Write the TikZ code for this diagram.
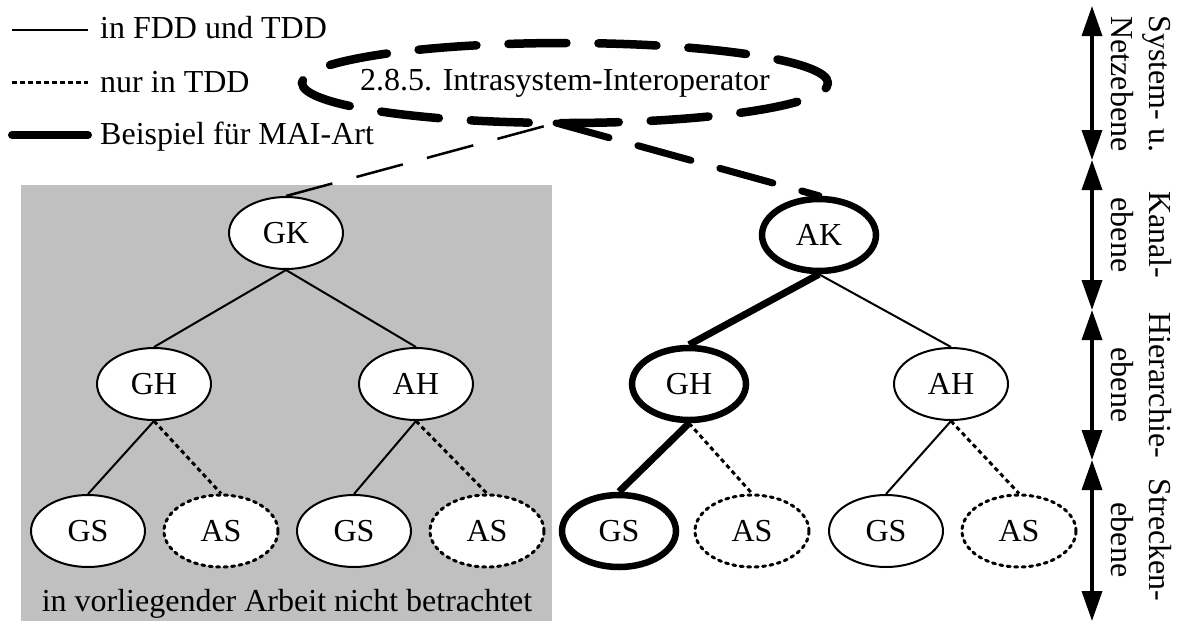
\documentclass[tikz,border=0pt]{standalone}
\usepackage{fontspec}
\setmainfont{Liberation Serif}
\usetikzlibrary{shapes.geometric,arrows.meta,calc}
\definecolor{areagrey}{RGB}{192,192,192}
\begin{document}
\begin{tikzpicture}[x=1pt,y=-1pt,
  lbl/.style={font=\fontsize{32}{38}\selectfont},
  unit/.style={ellipse, draw, fill=white, line width=2pt, minimum width=114pt,
    minimum height=72pt, inner sep=0pt, lbl},
  tddunit/.style={unit, line width=3pt, dash pattern=on 3pt off 4.5pt, line cap=round},
  maiunit/.style={unit, line width=6.5pt},
  fdd/.style={line width=2pt},
  tdd/.style={line width=3pt, dash pattern=on 4.5pt off 3.5pt},
  mai/.style={line width=7pt},
  level/.style={line width=3.5pt, {Triangle[length=30pt,width=20pt]}-{Triangle[length=30pt,width=20pt]}},
  side/.style={lbl, rotate=-90, align=center, inner sep=0pt}
]
\useasboundingbox (0,0) rectangle (1178,625);

% area not treated in this work
\fill[areagrey] (21,185) rectangle (552,621);
\node[lbl, inner sep=0pt] (note) at (287,604) {in vorliegender Arbeit nicht betrachtet};

% legend
\coordinate (l1a) at (12,30);  \coordinate (l1b) at (88,30);
\coordinate (l2a) at (12,82);  \coordinate (l2b) at (88,82);
\coordinate (l3a) at (12,135); \coordinate (l3b) at (88,135);
\draw[fdd] (l1a) -- (l1b);
\draw[tdd] (l2a) -- (l2b);
\draw[mai, line width=8pt, line cap=round] (l3a) -- (l3b);
\node[lbl, anchor=west, inner sep=0pt] (t1) at (100,28) {in FDD und TDD};
\node[lbl, anchor=west, inner sep=0pt] (t2) at (100,82) {nur in TDD};
\node[lbl, anchor=west, inner sep=0pt] (t3) at (100,137) {Beispiel für MAI-Art};

% interoperator
\node[ellipse, draw, line width=8.5pt, dash pattern=on 58pt off 32pt, line cap=round,
  minimum width=526pt, minimum height=80pt, inner sep=0pt] (inter) at (565,83) {};
\node[lbl, inner sep=0pt] (intertext) at (inter.center) {2.8.5. Intrasystem-Interoperator};
\coordinate (meet) at (556,123);

% left tree
\node[unit] (GK) at (286,233) {GK};
\node[unit] (GH1) at (154,384) {GH};
\node[unit] (AH1) at (416,384) {AH};
\node[unit] (GS1) at (88,531) {GS};
\node[tddunit] (AS1) at (221,531) {AS};
\node[unit] (GS2) at (354,531) {GS};
\node[tddunit] (AS2) at (487,531) {AS};

% right tree
\node[maiunit] (AK) at (819,235) {AK};
\node[maiunit] (GH2) at (689,384) {GH};
\node[unit] (AH2) at (951,384) {AH};
\node[maiunit] (GS3) at (619,531) {GS};
\node[tddunit] (AS3) at (752,531) {AS};
\node[unit] (GS4) at (886,531) {GS};
\node[tddunit] (AS4) at (1019,531) {AS};

% links
\draw[fdd] (GK.south) -- (GH1.north);
\draw[fdd] (GK.south) -- (AH1.north);
\draw[fdd] (GH1.south) -- (GS1.north);
\draw[tdd] (GH1.south) -- (AS1.north);
\draw[fdd] (AH1.south) -- (GS2.north);
\draw[tdd] (AH1.south) -- (AS2.north);
\draw[mai] (AK.south) -- (GH2.north);
\draw[fdd] (AK.south) -- (AH2.north);
\draw[mai] (GH2.south) -- (GS3.north);
\draw[tdd] (GH2.south) -- (AS3.north);
\draw[fdd] (AH2.south) -- (GS4.north);
\draw[tdd] (AH2.south) -- (AS4.north);

\draw[line width=2.5pt, dash pattern=on 48pt off 25pt] (GK.north) -- (meet);
\draw[line width=7pt, dash pattern=on 55pt off 30pt, line cap=round] (meet) -- (AK.north);

% levels
\coordinate (v0) at (1092,6);
\coordinate (v1) at (1092,160);
\coordinate (v2) at (1092,310);
\coordinate (v3) at (1092,460);
\coordinate (v4) at (1092,621);
\draw[level] (v0) -- (v1);
\draw[level] (v1) -- (v2);
\draw[level] (v2) -- (v3);
\draw[level] (v3) -- (v4);
\node[side] (s1) at (1141,84) {System- u.\\Netzebene};
\node[side] (s2) at (1141,235) {Kanal-\\ebene};
\node[side] (s3) at (1141,385) {Hierarchie-\\ebene};
\node[side] (s4) at (1141,540) {Strecken-\\ebene};
\end{tikzpicture}
\end{document}
